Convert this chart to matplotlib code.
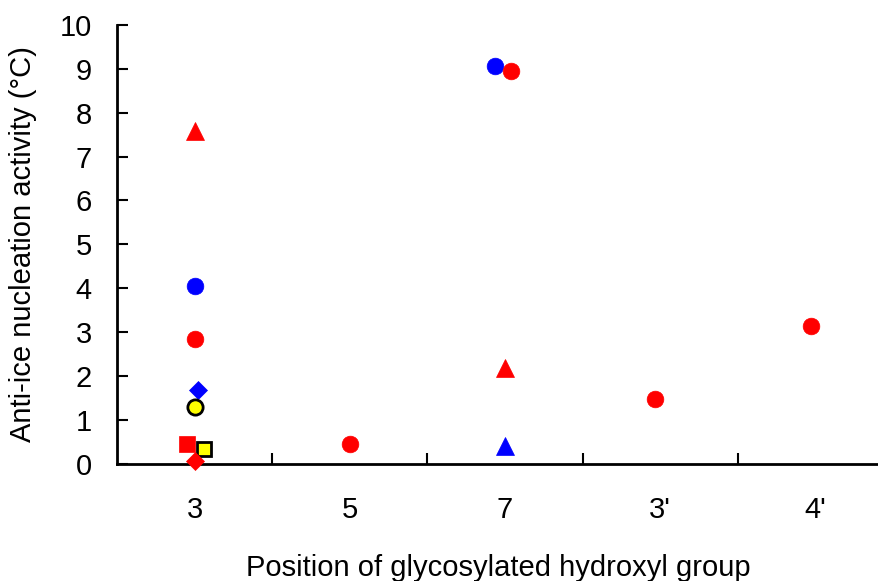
import matplotlib
matplotlib.use("Agg")
import matplotlib.pyplot as plt

plt.rcParams['font.family'] = ['Liberation Sans', 'DejaVu Sans']

categories = ["3", "5", "7", "3'", "4'"]

# Each series: category index (1-based), small offset within category, value
series = [
    dict(cat=1, off=0.0,   val=7.58, marker='^', face='red',    edge='red',   size=13),
    dict(cat=1, off=0.0,   val=4.06, marker='o', face='blue',   edge='blue',  size=12),
    dict(cat=1, off=0.0,   val=2.85, marker='o', face='red',    edge='red',   size=12),
    dict(cat=1, off=0.02,  val=1.69, marker='D', face='blue',   edge='blue',  size=9),
    dict(cat=1, off=0.0,   val=1.30, marker='o', face='yellow', edge='black', size=11),
    dict(cat=1, off=-0.05, val=0.46, marker='s', face='red',    edge='red',   size=11),
    dict(cat=1, off=0.06,  val=0.34, marker='s', face='yellow', edge='black', size=10),
    dict(cat=1, off=0.0,   val=0.07, marker='D', face='red',    edge='red',   size=9),
    dict(cat=2, off=0.0,   val=0.46, marker='o', face='red',    edge='red',   size=12),
    dict(cat=3, off=-0.065, val=9.05, marker='o', face='blue',  edge='blue',  size=12),
    dict(cat=3, off=0.04,  val=8.95, marker='o', face='red',    edge='red',   size=12),
    dict(cat=3, off=0.0,   val=2.19, marker='^', face='red',    edge='red',   size=13),
    dict(cat=3, off=0.0,   val=0.41, marker='^', face='blue',   edge='blue',  size=13),
    dict(cat=4, off=-0.03, val=1.48, marker='o', face='red',    edge='red',   size=12),
    dict(cat=5, off=-0.03, val=3.15, marker='o', face='red',    edge='red',   size=12),
]

fig = plt.figure(figsize=(8.79, 5.81), dpi=100)
ax = fig.add_axes([0.133, 0.2014, 0.867, 0.756])

for s in series:
    lw = 2.0 if s['edge'] == 'black' else 0.5
    ax.plot(s['cat'] + s['off'], s['val'], linestyle='none', marker=s['marker'],
            markersize=s['size'], markerfacecolor=s['face'],
            markeredgecolor=s['edge'], markeredgewidth=lw, clip_on=False, zorder=3)

ax.set_xlim(0.5, 5.41)
ax.set_ylim(0, 10)
ax.set_yticks(range(0, 11))
ax.set_xticks(range(1, 6))
ax.set_xticklabels(categories)
ax.set_xticks([1.5, 2.5, 3.5, 4.5], minor=True)

ax.tick_params(axis='x', which='major', length=0, labelsize=21, pad=23)
ax.tick_params(axis='x', which='minor', direction='in', length=8, width=1.5)
ax.tick_params(axis='y', which='major', direction='in', length=8, width=1.5,
               labelsize=21, pad=18)

for side in ['top', 'right']:
    ax.spines[side].set_visible(False)
for side in ['left', 'bottom']:
    ax.spines[side].set_linewidth(2)

ax.set_xlabel("Position of glycosylated hydroxyl group", fontsize=21, labelpad=22)
ax.set_ylabel("Anti-ice nucleation activity (°C)", fontsize=21, labelpad=16)

fig.savefig("out.png", dpi=100)
